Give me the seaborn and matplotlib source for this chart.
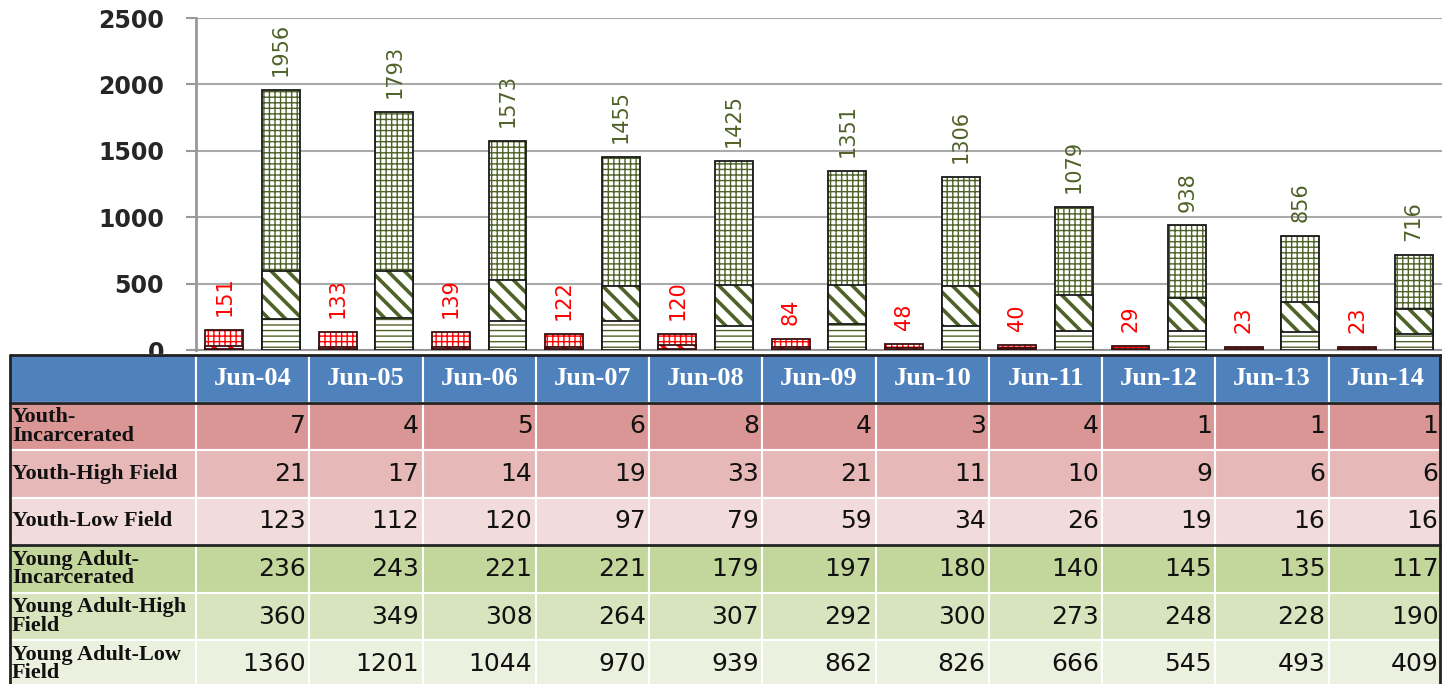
import pandas as pd
import matplotlib
matplotlib.use('Agg')
import matplotlib.pyplot as plt
import seaborn as sns

# 数据
months = ['Jun-04', 'Jun-05', 'Jun-06', 'Jun-07', 'Jun-08', 'Jun-09',
          'Jun-10', 'Jun-11', 'Jun-12', 'Jun-13', 'Jun-14']
youth_inc = [7, 4, 5, 6, 8, 4, 3, 4, 1, 1, 1]
youth_high = [21, 17, 14, 19, 33, 21, 11, 10, 9, 6, 6]
youth_low = [123, 112, 120, 97, 79, 59, 34, 26, 19, 16, 16]
ya_inc = [236, 243, 221, 221, 179, 197, 180, 140, 145, 135, 117]
ya_high = [360, 349, 308, 264, 307, 292, 300, 273, 248, 228, 190]
ya_low = [1360, 1201, 1044, 970, 939, 862, 826, 666, 545, 493, 409]

row_labels = ['Youth-\nIncarcerated', 'Youth-High Field', 'Youth-Low Field',
              'Young Adult-\nIncarcerated', 'Young Adult-High\nField',
              'Young Adult-Low\nField']
row_colors = ['#D99694', '#E6B9B8', '#F2DCDB', '#C3D69B', '#D7E4BD', '#EBF1DE']
header_color = '#4F81BD'
youth_col = '#FF0000'
ya_col = '#4F6228'

sns.set_style('white')
plt.rcParams['font.family'] = ['DejaVu Sans']

W, H = 1442, 684
fig = plt.figure(figsize=(W / 100, H / 100), dpi=100)
ax = fig.add_axes([196 / W, 1 - 350 / H, 1246 / W, 332 / H])

# 累计高度 (堆叠)
df = pd.DataFrame({
    'month': months * 2,
    'group': ['Youth'] * 11 + ['Young Adult'] * 11,
    'inc': youth_inc + ya_inc,
    'high': [a + b for a, b in zip(youth_inc, youth_high)] +
            [a + b for a, b in zip(ya_inc, ya_high)],
    'total': [a + b + c for a, b, c in zip(youth_inc, youth_high, youth_low)] +
             [a + b + c for a, b, c in zip(ya_inc, ya_high, ya_low)],
})

layers = [('total', '+++'), ('high', '\\\\'), ('inc', '---')]
for col, hatch in layers:
    for outline in (False, True):
        n0 = len(ax.patches)
        sns.barplot(data=df, x='month', y=col, hue='group',
                    hue_order=['Youth', 'Young Adult'], order=months,
                    dodge=True, width=1.0, gap=0.33, errorbar=None,
                    legend=False, ax=ax)
        new = ax.patches[n0:]
        for i, p in enumerate(new):
            c = youth_col if i < 11 else ya_col
            if outline:
                p.set_facecolor('none')
                p.set_hatch(None)
                p.set_edgecolor('#1a1a1a' if i >= 11 else '#3a1010')
                p.set_linewidth(1.3)
            else:
                p.set_facecolor('white')
                p.set_edgecolor(c)
                p.set_linewidth(0)
                p.set_hatch(hatch)
                if hasattr(p, 'set_hatch_linewidth'):
                    p.set_hatch_linewidth(2.6 if hatch == '\\\\' else 1.0)
            p.set_zorder(3)
        if outline and col == 'total':
            cont = ax.containers[-2:]
            ax.bar_label(cont[0], fmt='%d', rotation=90, padding=10,
                         color=youth_col, fontsize=15)
            ax.bar_label(cont[1], fmt='%d', rotation=90, padding=10,
                         color=ya_col, fontsize=15)

ax.set_xlim(-0.5, 10.5)
ax.set_ylim(0, 2500)
ax.set_yticks([0, 500, 1000, 1500, 2000, 2500])
ax.set_xlabel('')
ax.set_ylabel('')
ax.set_xticklabels([])
ax.tick_params(axis='x', length=0)
ax.tick_params(axis='y', length=7, width=1.5, color='#999999', pad=16,
               labelsize=17, direction='out', left=True)
for t in ax.get_yticklabels():
    t.set_fontweight('bold')
ax.yaxis.grid(True, color='#AAAAAA', linewidth=1.5, zorder=0)
ax.set_axisbelow(True)
for s in ['top', 'right']:
    ax.spines[s].set_visible(False)
ax.spines['left'].set_color('#999999')
ax.spines['left'].set_linewidth(2)
ax.spines['bottom'].set_color('#999999')
ax.spines['bottom'].set_linewidth(1.5)

# 表格
tab_ax = fig.add_axes([10 / W, 1 - 688 / H, 1432 / W, 333 / H])
tab_ax.axis('off')
series = [youth_inc, youth_high, youth_low, ya_inc, ya_high, ya_low]
cell_text = [[''] + months]
cell_colors = [[header_color] * 12]
for lab, vals, rc in zip(row_labels, series, row_colors):
    cell_text.append([lab] + [str(v) for v in vals])
    cell_colors.append([rc] * 12)
col_w = [186] + [1246 / 11] * 11
tbl = tab_ax.table(cellText=cell_text, cellColours=cell_colors,
                   colWidths=[w / sum(col_w) for w in col_w],
                   bbox=[0, 0, 1, 1])
tbl.auto_set_font_size(False)
for (r, c), cell in tbl.get_celld().items():
    cell.set_edgecolor('white')
    cell.set_linewidth(1.5)
    txt = cell.get_text()
    if r == 0:
        cell._loc = 'center'
        txt.set_ha('center')
        txt.set_color('white')
        txt.set_fontfamily('Liberation Serif')
        txt.set_fontweight('bold')
        txt.set_fontsize(19)
    elif c == 0:
        cell._loc = 'left'
        cell.PAD = 0.01
        txt.set_ha('left')
        txt.set_fontfamily('Liberation Serif')
        txt.set_fontweight('bold')
        txt.set_fontsize(16)
        txt.set_linespacing(0.9)
        txt.set_color('#111111')
    else:
        cell._loc = 'right'
        cell.PAD = 0.03
        txt.set_ha('right')
        txt.set_fontsize(18)
        txt.set_color('#111111')

# 黑色边框线
for y_px in [355, 403, 545]:
    tab_ax.axhline(1 - (y_px - 355) / 333, color='#222222', linewidth=2,
                   clip_on=False, zorder=5)
tab_ax.axvline(0, color='#222222', linewidth=2, clip_on=False, zorder=5)
tab_ax.axvline(1430 / 1432, color='#222222', linewidth=2, clip_on=False, zorder=5)

fig.savefig('out.png', dpi=100)
